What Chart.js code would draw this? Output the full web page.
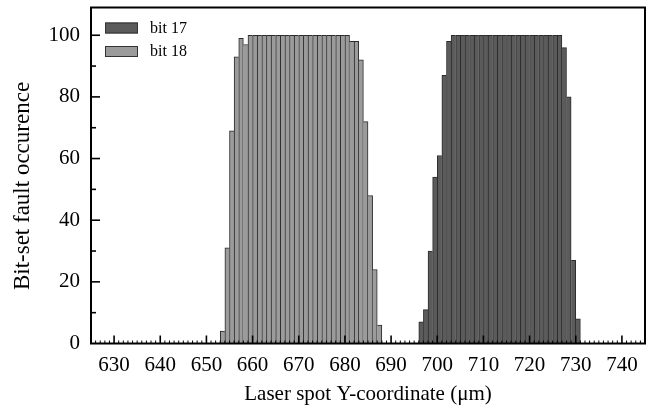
<!DOCTYPE html>
<html>
<head>
<meta charset="utf-8">
<script src="https://cdn.jsdelivr.net/npm/chart.js@4/dist/chart.umd.min.js"></script>
<style>
  html, body { margin: 0; padding: 0; background: #fff; }
  #wrap { width: 653px; height: 414px; }
</style>
</head>
<body>
<div id="wrap"><canvas id="faults"></canvas></div>
<script>
// bin left edges (µm) and counts
const bit17Bins = [696, 697, 698, 699, 700, 701, 702, 703, 704, 705, 706, 707, 708, 709, 710, 711, 712,
  713, 714, 715, 716, 717, 718, 719, 720, 721, 722, 723, 724, 725, 726, 727, 728, 729, 730];
const bit17Counts = [7, 11, 30, 54, 61, 87, 98, 100, 100, 100, 100, 100, 100, 100, 100, 100, 100,
  100, 100, 100, 100, 100, 100, 100, 100, 100, 100, 100, 100, 100, 100, 96, 80, 27, 8];

const bit18Bins = [653, 654, 655, 656, 657, 658, 659, 660, 661, 662, 663, 664, 665, 666, 667, 668, 669,
  670, 671, 672, 673, 674, 675, 676, 677, 678, 679, 680, 681, 682, 683, 684, 685, 686, 687];
const bit18Counts = [4, 31, 69, 93, 99, 97, 100, 100, 100, 100, 100, 100, 100, 100, 100, 100, 100,
  100, 100, 100, 100, 100, 100, 100, 100, 100, 100, 100, 98, 98, 92, 72, 48, 24, 6];

const xTickValues = [630, 640, 650, 660, 670, 680, 690, 700, 710, 720, 730, 740];
const yTickValues = [0, 20, 40, 60, 80, 100];

const seriesNames = ["bit 17", "bit 18"];
const yTitle = "Bit-set fault occurence";
const xTitle = "Laser spot Y-coordinate (\u03bcm)";

const serif = "'Liberation Serif', 'Times New Roman', serif";
Chart.defaults.font.family = serif;
Chart.defaults.color = "#000";

const toPoints = (bins, counts) => bins.map((b, i) => ({ x: b + 0.5, y: counts[i] }));

// one dark line between neighbouring bins, drawn by the taller of the two
const edges = (counts) => (c) => {
  const i = c.dataIndex;
  const cur = counts[i], prev = counts[i - 1], next = counts[i + 1];
  return {
    top: 1,
    bottom: 0,
    left: prev === undefined || prev <= cur ? 1 : 0,
    right: next === undefined || next < cur ? 1 : 0,
  };
};

const data = {
  datasets: [
    {
      label: seriesNames[0],
      data: toPoints(bit17Bins, bit17Counts),
      backgroundColor: "#5b5b5b",
      borderColor: "#2b2b2b",
      borderWidth: edges(bit17Counts),
    },
    {
      label: seriesNames[1],
      data: toPoints(bit18Bins, bit18Counts),
      backgroundColor: "#9b9b9b",
      borderColor: "#2b2b2b",
      borderWidth: edges(bit18Counts),
    },
  ],
};

// inward tick marks, frame, legend box and y title
const decorations = {
  id: "decorations",
  afterDatasetsDraw(chart) {
    const { ctx, chartArea: a, scales: { x, y } } = chart;
    ctx.save();
    ctx.strokeStyle = "#000";
    for (let v = Math.ceil(x.min); v <= x.max; v++) {
      const major = v % 10 === 0;
      const px = x.getPixelForValue(v);
      ctx.lineWidth = major ? 1.6 : 1;
      ctx.beginPath();
      ctx.moveTo(px, a.bottom);
      ctx.lineTo(px, a.bottom - (major ? 8 : 3));
      ctx.stroke();
    }
    for (let v = 10; v <= y.max; v += 10) {
      const major = v % 20 === 0;
      const py = y.getPixelForValue(v);
      ctx.lineWidth = 1.6;
      ctx.beginPath();
      ctx.moveTo(a.left, py);
      ctx.lineTo(a.left + (major ? 9 : 5), py);
      ctx.stroke();
    }
    ctx.lineWidth = 2;
    ctx.strokeRect(a.left, a.top, a.right - a.left, a.bottom - a.top);

    // legend
    chart.data.datasets.forEach((ds, i) => {
      const top = a.top + 15 + i * 23.5;
      ctx.fillStyle = ds.backgroundColor;
      ctx.fillRect(a.left + 14, top, 33, 11);
      ctx.lineWidth = 1;
      ctx.strokeStyle = "#333";
      ctx.strokeRect(a.left + 14.5, top + 0.5, 32, 10);
      ctx.fillStyle = "#000";
      ctx.font = "16px " + serif;
      ctx.textAlign = "left";
      ctx.textBaseline = "middle";
      ctx.fillText(ds.label, a.left + 59, top + 6);
    });

    // y axis title
    ctx.translate(29, 186);
    ctx.rotate(-Math.PI / 2);
    ctx.font = "23px " + serif;
    ctx.textAlign = "center";
    ctx.textBaseline = "alphabetic";
    ctx.fillStyle = "#000";
    ctx.fillText(yTitle, 0, 0);
    ctx.restore();
  },
};

const options = {
  responsive: true,
  maintainAspectRatio: false,
  animation: false,
  layout: { padding: { top: 7.5, right: 8, left: 0, bottom: 0 } },
  datasets: {
    bar: {
      grouped: false,
      barPercentage: 1,
      categoryPercentage: 1,
    },
  },
  scales: {
    x: {
      type: "linear",
      offset: false,
      min: 625,
      max: 745,
      grid: { display: false, drawTicks: false, offset: false },
      border: { display: false },
      ticks: {
        autoSkip: false,
        maxRotation: 0,
        padding: 9,
        font: { size: 21 },
      },
      afterBuildTicks: (s) => { s.ticks = xTickValues.map((v) => ({ value: v })); },
      title: {
        display: true,
        text: xTitle,
        font: { size: 21 },
        padding: { top: 0, bottom: 7 },
      },
      afterFit: (s) => { s.height = 70.5; s.paddingLeft = 0; s.paddingRight = 0; },
    },
    y: {
      min: 0,
      max: 109,
      grid: { display: false, drawTicks: false },
      border: { display: false },
      ticks: {
        padding: 11,
        font: { size: 21 },
      },
      afterBuildTicks: (s) => { s.ticks = yTickValues.map((v) => ({ value: v })); },
      afterFit: (s) => { s.width = 91; s.paddingTop = 0; s.paddingBottom = 0; },
    },
  },
  plugins: {
    legend: { display: false },
    tooltip: { enabled: false },
  },
};

new Chart(document.getElementById("faults"), {
  type: "bar",
  data,
  options,
  plugins: [decorations],
});
</script>
</body>
</html>
